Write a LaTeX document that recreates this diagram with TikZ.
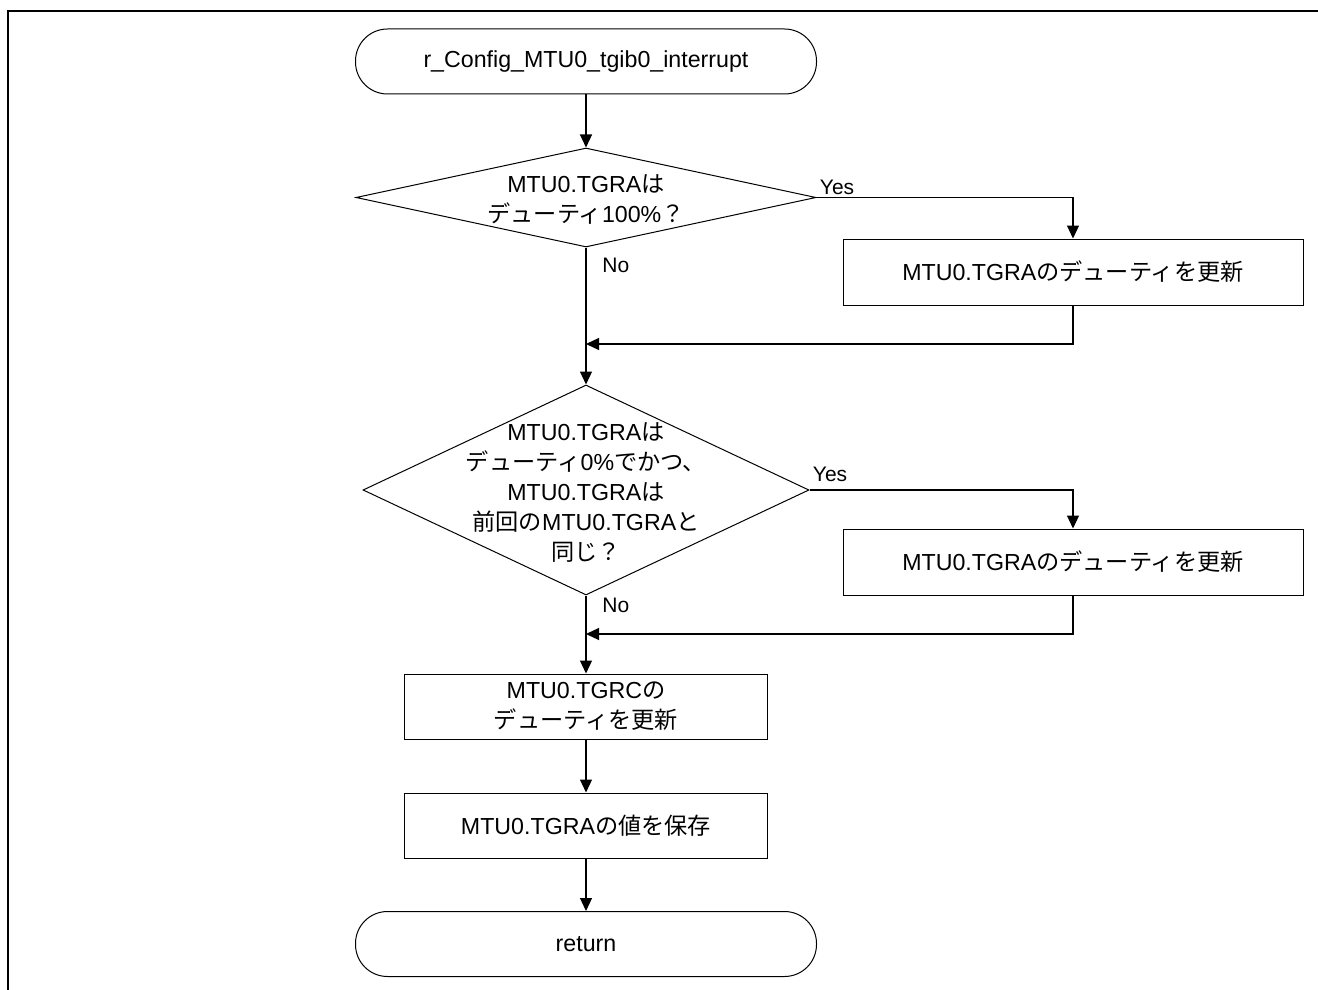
\documentclass[tikz,border=0pt]{standalone}
\usepackage{fontspec}
\setmainfont{Liberation Sans}
\newfontfamily\jpfont{Noto Sans CJK JP}
\usetikzlibrary{shapes.geometric,arrows.meta,calc}
\newcommand\ja[1]{{\jpfont #1}}

\tikzset{
  flow/.style={line width=0.6pt},
  arr/.style={flow,-{Triangle[length=6.5pt,width=6pt]}},
  term/.style={draw,line width=0.5pt,rectangle,rounded corners=16pt,minimum width=230.5pt,minimum height=32.5pt,inner sep=0pt},
  proc/.style={draw,line width=0.5pt,rectangle,minimum height=33pt,inner sep=0pt,align=center},
  dec/.style={draw,line width=0.5pt,diamond,inner sep=0pt},
  lbl/.style={inner sep=0pt,font=\fontsize{10.5}{12}\selectfont}
}

\begin{document}
\begin{tikzpicture}[x=0.5pt,y=-0.5pt,font=\fontsize{11.6}{15}\selectfont]
\useasboundingbox (0,0) rectangle (1318,990);
% frame
\draw[line width=1pt] (8,990)--(8,11)--(1318,11);

\node[term] (start) at (586,61.5) {r\_Config\_MTU0\_tgib0\_interrupt};

\node[dec,minimum width=230pt,minimum height=49.5pt] (d1) at (586,197.5) {};
\node[align=center,inner sep=0pt] (d1t) at (586,199) {MTU0.TGRA\ja{は}\\\ja{デューティ}100\%\ja{？}};
\node[proc,minimum width=230pt] (b1) at (1073,272) {MTU0.TGRA\ja{のデューティを更新}};
\coordinate (m1) at (586,344);

\node[dec,minimum width=223pt,minimum height=105pt] (d2) at (586,490) {};
\node[align=center,inner sep=0pt] (d2t) at (586,493) {MTU0.TGRA\ja{は}\\\ja{デューティ}0\%\ja{でかつ、}\\MTU0.TGRA\ja{は}\\\ja{前回の}MTU0.TGRA\ja{と}\\\ja{同じ？}};
\node[proc,minimum width=230pt] (b2) at (1073,562) {MTU0.TGRA\ja{のデューティを更新}};
\coordinate (m2) at (586,634);

\node[proc,minimum width=181.5pt,minimum height=32.5pt] (b3) at (586,706.5) {MTU0.TGRC\ja{の}\\\ja{デューティを更新}};
\node[proc,minimum width=181.5pt,minimum height=32.5pt] (b4) at (586,825.5) {MTU0.TGRA\ja{の値を保存}};
\node[term] (ret) at (586,944) {return};

% connectors
\draw[arr] (start.south)--(d1.north);
\draw[arr] (d1.east)-|(b1.north);
\node[lbl,anchor=south west] (y1) at ($(d1.east)+(3,-2)$) {Yes};
\draw[arr] (b1.south)|-(m1);
\draw[arr] (d1.south)--(d2.north);
\node[lbl,anchor=north west] (n1) at ($(d1.south)+(16,10)$) {No};

\draw[arr] (d2.east)-|(b2.north);
\node[lbl,anchor=south west] (y2) at ($(d2.east)+(3,-8)$) {Yes};
\draw[arr] (b2.south)|-(m2);
\draw[arr] (d2.south)--(b3.north);
\node[lbl,anchor=north west] (n2) at ($(d2.south)+(16,2)$) {No};

\draw[arr] (b3.south)--(b4.north);
\draw[arr] (b4.south)--(ret.north);
\end{tikzpicture}
\end{document}
